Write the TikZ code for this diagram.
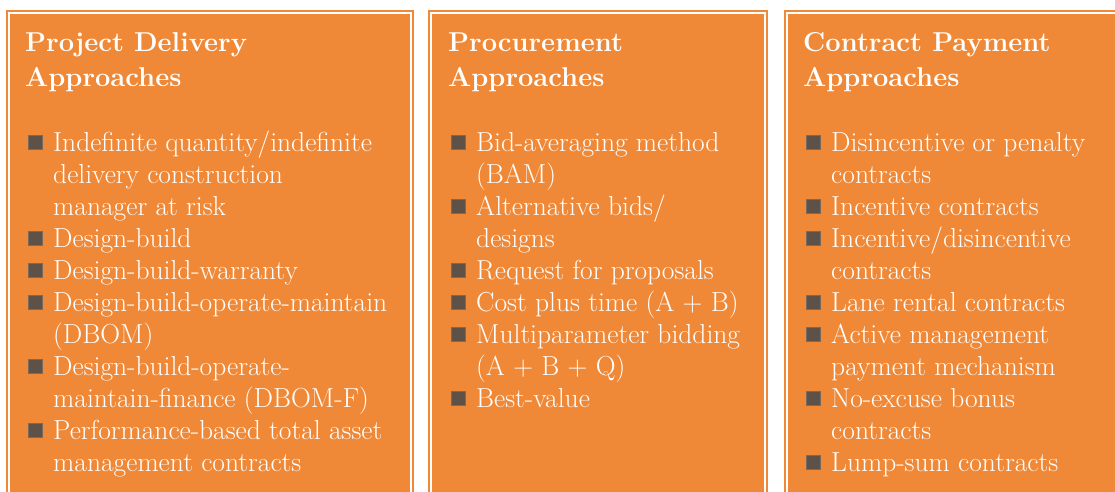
\documentclass[tikz,border=0pt]{standalone}
\usepackage{fontspec}
\usepackage{tikz}
\usepackage{xcolor}

\definecolor{panelorange}{RGB}{240,137,55}
\definecolor{bulletgray}{RGB}{94,81,72}

% first-line strut so every node top sits a fixed distance above its first baseline
\newcommand{\hdstrut}{\rule{0pt}{26pt}}
\newcommand{\itstrut}{\rule{0pt}{24pt}}

\tikzset{
  panel/.style={fill=panelorange},
  frame/.style={draw=panelorange, line width=1.5pt},
  head/.style={anchor=north west, inner sep=0pt, align=left, text=white,
    font=\bfseries\fontsize{27.3}{35}\selectfont},
  entry/.style={anchor=north west, inner sep=0pt, align=left, text=white,
    font=\fontsize{27.5}{32}\selectfont},
  sqbullet/.style={fill=bulletgray, draw=bulletgray!85!white, line width=0.5pt,
    minimum size=14pt, inner sep=0pt}
}

\begin{document}
\begin{tikzpicture}[x=1pt,y=-1pt]
    \useasboundingbox (0,0) rectangle (1115,491);
    \fill[white] (0,0) rectangle (1115,491);
    \clip (0,0) rectangle (1115,491);

    % the three panels
    \fill[panel] (10,14) rectangle (410,520);
    \draw[frame] (7,11) rectangle (413,523);
    \fill[panel] (432,14) rectangle (764,520);
    \draw[frame] (429,11) rectangle (767,523);
    \fill[panel] (788,14) rectangle (1130,520);
    \draw[frame] (785,11) rectangle (1133,523);

    % headings
    \node[head] (pdhead) at (25,25) {\hdstrut Project Delivery\\Approaches};
    \node[head] (prhead) at (448,25) {\hdstrut Procurement\\Approaches};
    \node[head] (cphead) at (803,25) {\hdstrut Contract Payment\\Approaches};

    % project delivery
    \node[entry] (pd1) at (53,127) {\itstrut Indefinite quantity/indefinite\\delivery construction\\manager at risk};
    \node[entry] (pd2) at (53,223) {\itstrut Design-build};
    \node[entry] (pd3) at (53,255) {\itstrut Design-build-warranty};
    \node[entry] (pd4) at (53,287) {\itstrut Design-build-operate-maintain\\(DBOM)};
    \node[entry] (pd5) at (53,351) {\itstrut Design-build-operate-\\maintain-finance (DBOM-F)};
    \node[entry] (pd6) at (53,415) {\itstrut Performance-based total asset\\management contracts};

    % procurement
    \node[entry] (pr1) at (476,127) {\itstrut Bid-averaging method\\(BAM)};
    \node[entry] (pr2) at (476,191) {\itstrut Alternative bids/\\designs};
    \node[entry] (pr3) at (476,255) {\itstrut Request for proposals};
    \node[entry] (pr4) at (476,287) {\itstrut Cost plus time (A + B)};
    \node[entry] (pr5) at (476,319) {\itstrut Multiparameter bidding\\(A + B + Q)};
    \node[entry] (pr6) at (476,383) {\itstrut Best-value};

    % contract payment
    \node[entry] (cp1) at (831,127) {\itstrut Disincentive or penalty\\contracts};
    \node[entry] (cp2) at (831,191) {\itstrut Incentive contracts};
    \node[entry] (cp3) at (831,223) {\itstrut Incentive/disincentive\\contracts};
    \node[entry] (cp4) at (831,287) {\itstrut Lane rental contracts};
    \node[entry] (cp5) at (831,319) {\itstrut Active management\\payment mechanism};
    \node[entry] (cp6) at (831,383) {\itstrut No-excuse bonus\\contracts};
    \node[entry] (cp7) at (831,447) {\itstrut Lump-sum contracts};

    % square bullets
    \foreach \n in {pd1,pd2,pd3,pd4,pd5,pd6,pr1,pr2,pr3,pr4,pr5,pr6,cp1,cp2,cp3,cp4,cp5,cp6,cp7}
      \node[sqbullet] (\n b) at ([xshift=-17.5pt,yshift=-15pt]\n.north west) {};
\end{tikzpicture}
\end{document}
